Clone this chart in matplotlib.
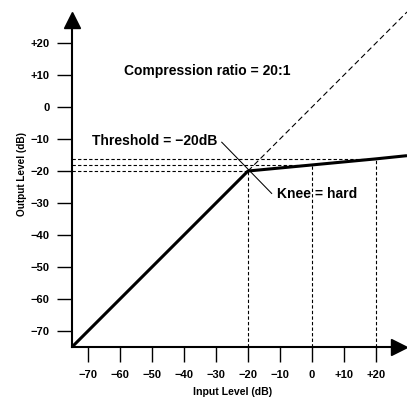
import matplotlib
matplotlib.use("Agg")
import matplotlib.pyplot as plt

plt.rcParams['font.family'] = ['Liberation Sans', 'DejaVu Sans']
plt.rcParams['font.weight'] = 'bold'

# Data
input_db = [-75, -20, 0, 20, 29.7]
output_db = [-75, -20, -18.1, -16.2, -15.2]
guide_inputs = [-20, 0, 20]
guide_outputs = [-20, -18.1, -16.2]
unity_x = [-20, 29.7]
unity_y = [-20, 29.7]
x_ticks = [-70, -60, -50, -40, -30, -20, -10, 0, 10, 20]
x_labels = ['\u221270', '\u221260', '\u221250', '\u221240', '\u221230',
            '\u221220', '\u221210', '0', '+10', '+20']
y_ticks = [-70, -60, -50, -40, -30, -20, -10, 0, 10, 20]
y_labels = x_labels

LO, HI = -75, 29.7

fig = plt.figure(figsize=(4.07, 3.99), dpi=100)
ax = fig.add_axes([72/407, 52/399, 335/407, 335/399])
ax.set_xlim(LO, HI)
ax.set_ylim(LO, HI)

for s in ['top', 'right']:
    ax.spines[s].set_visible(False)
for s in ['left', 'bottom']:
    ax.spines[s].set_linewidth(1.5)
    ax.spines[s].set_bounds(LO, 27.5)

ax.set_xticks(x_ticks)
ax.set_xticklabels(x_labels)
ax.set_yticks(y_ticks)
ax.set_yticklabels(y_labels)
ax.tick_params(direction='out', length=10.8, width=1.0, labelsize=8, pad=5.5)
for lab in ax.get_xticklabels() + ax.get_yticklabels():
    lab.set_fontweight('bold')

# arrow heads
ax.plot([27.2], [LO], marker='>', color='black', ms=11.5, clip_on=False, zorder=5)
ax.plot([LO], [27.2], marker='^', color='black', ms=11.5, clip_on=False, zorder=5)

# guide dashed lines
for gx, gy in zip(guide_inputs, guide_outputs):
    ax.plot([LO, gx], [gy, gy], color='black', lw=0.8, ls=(0, (3, 2)), clip_on=False)
    ax.plot([gx, gx], [LO, gy], color='black', lw=0.8, ls=(0, (3, 2)), clip_on=False)

# unity reference line
ax.plot(unity_x, unity_y, color='black', lw=0.8, ls=(0, (5, 3)), clip_on=False)

# main transfer curve
ax.plot(input_db, output_db, color='black', lw=2.2, solid_capstyle='butt', clip_on=False, zorder=4)

# leader line
ax.plot([-28.2, -12.6], [-11.0, -27.0], color='black', lw=0.75)

ax.text(-32.7, 11.25, 'Compression ratio = 20:1', ha='center', va='center',
        fontsize=10, fontweight='bold')
ax.text(-49.2, -10.6, 'Threshold = \u221220dB', ha='center', va='center',
        fontsize=10, fontweight='bold')
ax.text(1.56, -27.2, 'Knee = hard', ha='center', va='center',
        fontsize=10, fontweight='bold')

fig.text(233/407, 1 - 391.7/399, 'Input Level (dB)', ha='center', va='center',
         fontsize=7.6, fontweight='bold')
fig.text(22/407, 1 - 173.5/399, 'Output Level (dB)', ha='center', va='center',
         rotation=90, fontsize=7.2, fontweight='bold')

fig.savefig('out.png', dpi=100)
